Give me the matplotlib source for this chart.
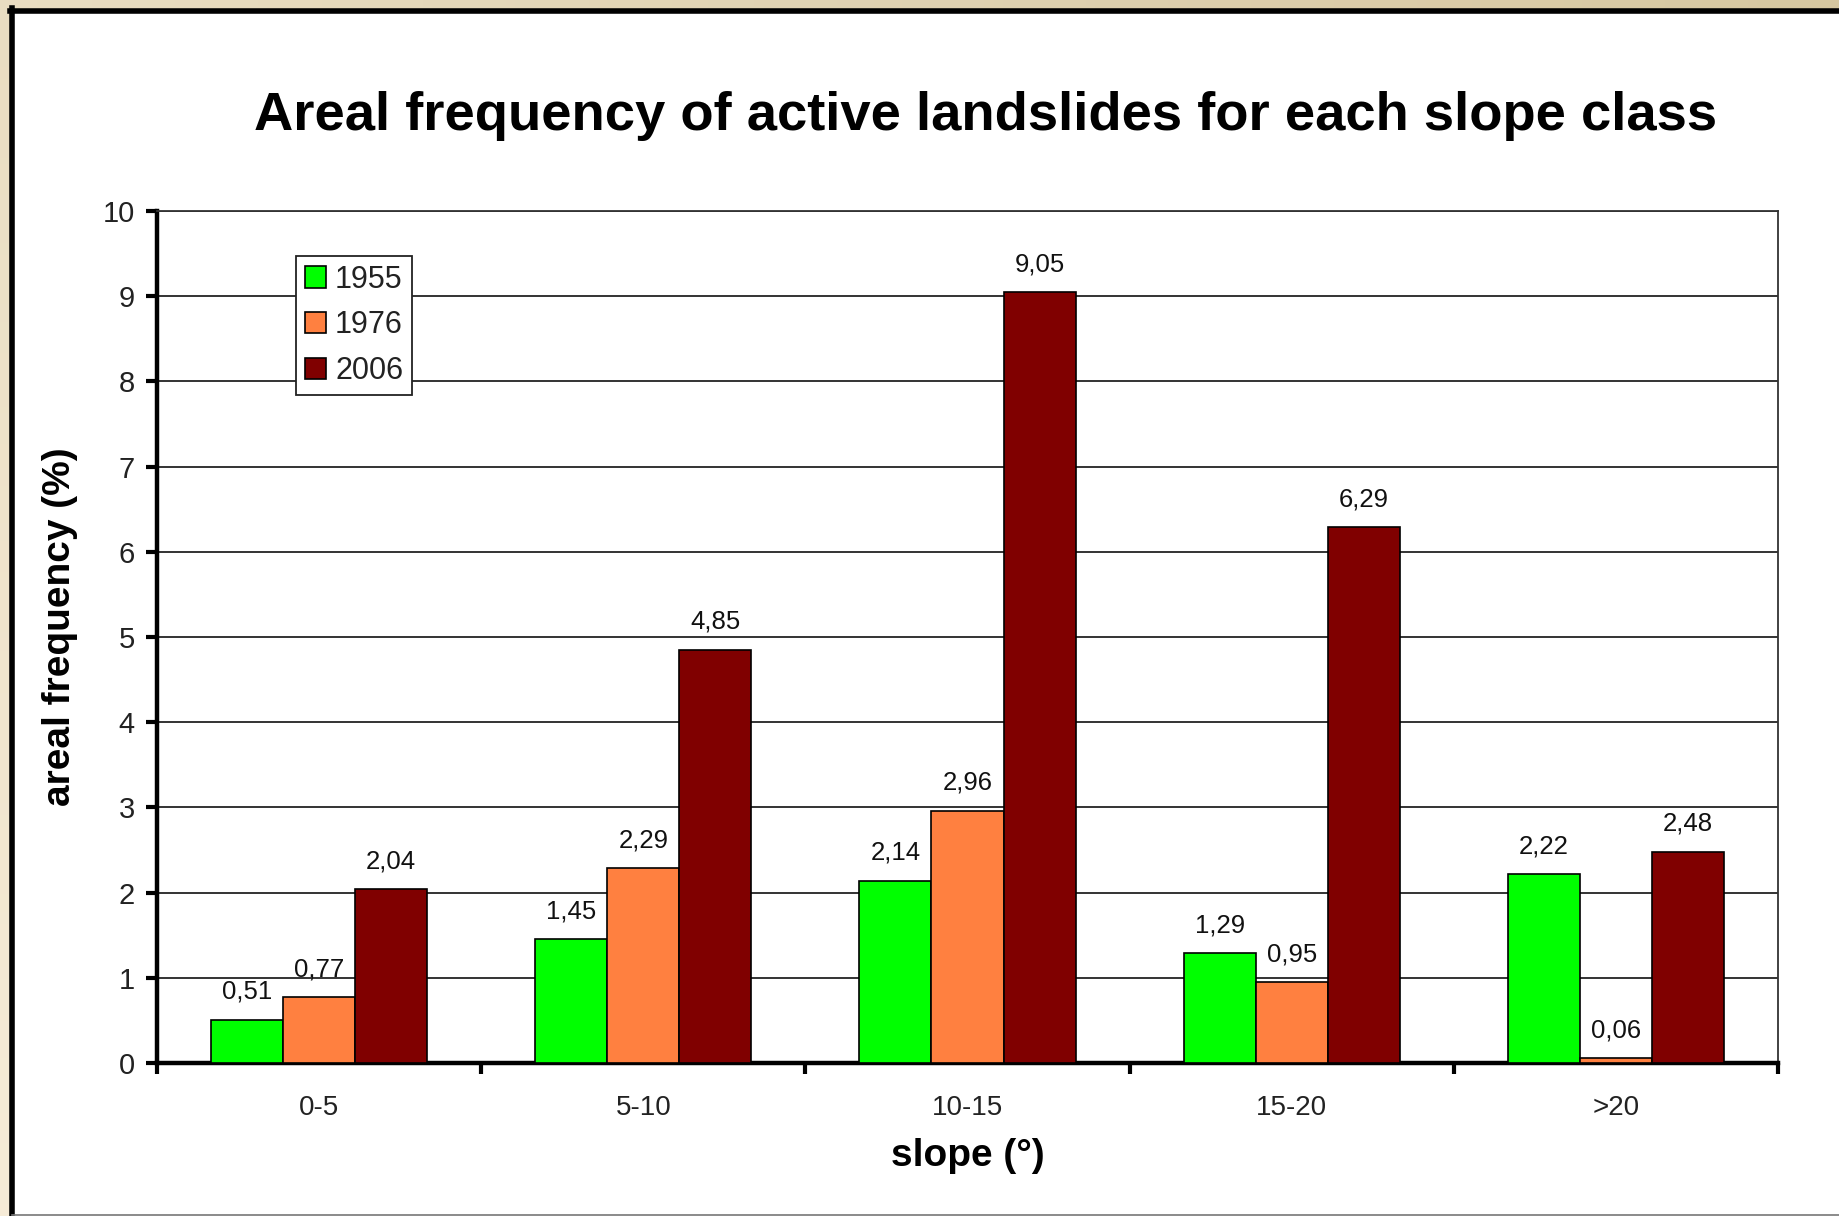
import numpy as np
import matplotlib
matplotlib.use("Agg")
import matplotlib.pyplot as plt
from matplotlib.patches import Rectangle

# Slope classes and areal frequency (%) of active landslides per survey year
categories = ["0-5", "5-10", "10-15", "15-20", ">20"]
years = ["1955", "1976", "2006"]
freq_1955 = [0.51, 1.45, 2.14, 1.29, 2.22]
freq_1976 = [0.77, 2.29, 2.96, 0.95, 0.06]
freq_2006 = [2.04, 4.85, 9.05, 6.29, 2.48]
colors = ["#00FF00", "#FF8040", "#800000"]
y_ticks = list(range(0, 11))

plt.rcParams["font.family"] = ["Liberation Sans", "DejaVu Sans"]

W, H = 1840, 1216
fig = plt.figure(figsize=(W / 100, H / 100), dpi=100)

# textured beige backdrop
bg = fig.add_axes([0, 0, 1, 1], zorder=-10)
gx = np.linspace(0, 1, 200)
gy = np.linspace(0, 1, 200)
GX, GY = np.meshgrid(gx, gy)
t = np.clip(0.6 * GX + 0.4 * (1 - GY), 0, 1)
c0 = np.array([0.965, 0.925, 0.845])
c1 = np.array([0.84, 0.78, 0.63])
img = c0[None, None, :] * (1 - t[..., None]) + c1[None, None, :] * t[..., None]
bg.imshow(img, extent=[0, 1, 0, 1], aspect="auto", origin="upper")
bg.set_axis_off()

# white chart panel with heavy black border on the left and top
panel = Rectangle((12.5 / W, -2 / H), 1.0, 1 - 10.5 / H + 2 / H,
                  transform=fig.transFigure, facecolor="white",
                  edgecolor="none", zorder=-5)
fig.patches.append(panel)
fig.add_artist(plt.Line2D([12.5 / W, 12.5 / W], [0, 1 - 8 / H],
                          transform=fig.transFigure, color="black", lw=4))
fig.add_artist(plt.Line2D([10 / W, 1], [1 - 10.5 / H, 1 - 10.5 / H],
                          transform=fig.transFigure, color="black", lw=4))
fig.add_artist(plt.Line2D([12.5 / W, 1], [0.8 / H, 0.8 / H],
                          transform=fig.transFigure, color="#777777", lw=1.2))

left, right = 157 / W, 1778 / W
bottom, top = 1 - 1063 / H, 1 - 211 / H
ax = fig.add_axes([left, bottom, right - left, top - bottom])
ax.set_facecolor("white")

x = np.arange(len(categories))
w = 1 / 4.5
series = [freq_1955, freq_1976, freq_2006]
for i, (vals, col, lab) in enumerate(zip(series, colors, years)):
    xs = x + (i - 1) * w
    ax.bar(xs, vals, width=w, color=col, edgecolor="black",
           linewidth=1.2, label=lab, zorder=3)
    for xi, v in zip(xs, vals):
        ax.annotate(f"{v:.2f}".replace(".", ","), (xi, v),
                    xytext=(0, 15), textcoords="offset points",
                    ha="center", va="baseline", fontsize=18.5,
                    color="#111111", zorder=4)

ax.set_xlim(-0.5, len(categories) - 0.5)
ax.set_ylim(0, 10)
ax.set_yticks(y_ticks)
ax.yaxis.grid(True, color="#111111", linewidth=1.2, zorder=1)
ax.set_axisbelow(True)

ax.set_xticks(x)
ax.set_xticklabels(categories, fontsize=20, color="#222222")
ax.set_xticks(np.arange(-0.5, len(categories), 1.0), minor=True)
ax.tick_params(axis="x", which="major", length=0, pad=23)
ax.tick_params(axis="x", which="minor", length=8, width=3, direction="out",
               color="black")
ax.tick_params(axis="y", labelsize=21, length=8, width=3, direction="out",
               pad=8, labelcolor="#222222")

for s in ("left", "bottom"):
    ax.spines[s].set_linewidth(3.2)
    ax.spines[s].set_color("black")
for s in ("top", "right"):
    ax.spines[s].set_linewidth(1.3)
    ax.spines[s].set_color("#333333")

ax.set_ylabel("areal frequency (%)", fontsize=28, fontweight="bold", labelpad=18)
ax.yaxis.label.set_y(0.512)
ax.set_xlabel("slope (°)", fontsize=28, fontweight="bold", labelpad=12)

fig.text(986 / W, 1 - 116 / H,
         "Areal frequency of active landslides for each slope class",
         ha="center", va="center", fontsize=39.2, fontweight="bold")

leg = ax.legend(loc="upper left", bbox_to_anchor=(296 / W, 1 - 256 / H),
                bbox_transform=fig.transFigure, fontsize=22, frameon=True,
                fancybox=False, edgecolor="#222222", framealpha=1,
                handlelength=0.7, handleheight=0.7, handletextpad=0.3,
                labelspacing=0.52, borderpad=0.28, borderaxespad=0)
leg.get_frame().set_linewidth(1.3)
for txt in leg.get_texts():
    txt.set_color("#222222")

fig.savefig("out.png", dpi=100)
